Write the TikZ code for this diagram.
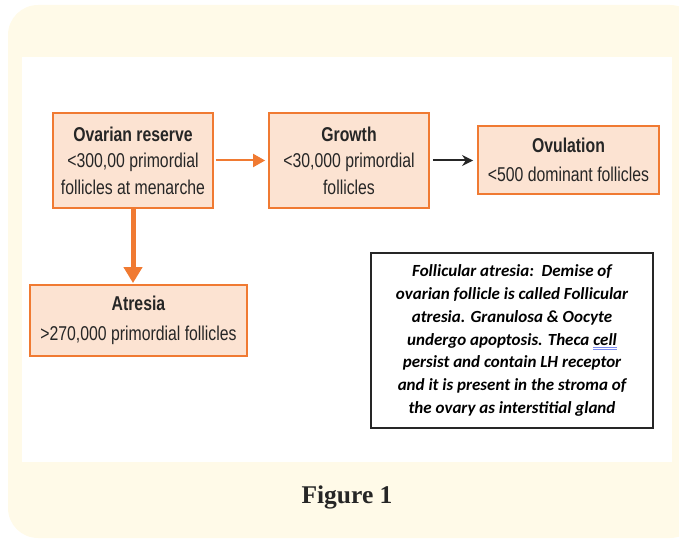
\documentclass[tikz,border=0pt]{standalone}
\usepackage{fontspec}
\usetikzlibrary{arrows.meta}
\newfontfamily\narrowsf[FakeStretch=0.79]{Liberation Sans}
\newfontfamily\notefont{Carlito}
\newfontfamily\capfont{Liberation Serif}
\definecolor{cream}{HTML}{FFFAE8}
\definecolor{boxorange}{HTML}{F07A32}
\definecolor{boxfill}{HTML}{FCE3D2}
\definecolor{spellblue}{HTML}{7A8CF0}
% double blue mark under a word
\newcommand\spellmark[1]{\setbox0\hbox{#1}\rlap{\copy0}\rlap{\raisebox{-2.8pt}{\textcolor{spellblue}{\rule{\wd0}{0.6pt}}}}\raisebox{-4.4pt}{\textcolor{spellblue}{\rule{\wd0}{0.6pt}}}}

\begin{document}
\begin{tikzpicture}[x=1pt,y=-1pt,
    stage/.style={rectangle,draw=boxorange,line width=1.8pt,fill=boxfill,align=center,
      inner sep=0pt,text=black!85,font=\narrowsf\fontsize{20}{26.5}\selectfont},
    notebox/.style={rectangle,draw=black!85,line width=1.6pt,fill=white,align=center,
      inner sep=0pt,font=\notefont\bfseries\itshape\fontsize{17}{22.8}\selectfont}]
    \path[use as bounding box] (0,0) rectangle (679,540);
    \clip (0,0) rectangle (679,540);
    \fill[cream,rounded corners=30pt] (8,5) rectangle (700,538);
    \fill[white] (22,57) rectangle (672,462);

    \node (reserve) at (133,160.5) [stage,minimum width=160pt,minimum height=95pt]
      {\textbf{Ovarian reserve}\\<300,00 primordial\\follicles at menarche};
    \node (growth) at (349,160.5) [stage,minimum width=160pt,minimum height=95pt]
      {\textbf{Growth}\\<30,000 primordial\\follicles};
    \node (ovulation) at (568.5,160) [stage,minimum width=181pt,minimum height=68pt]
      {\textbf{Ovulation}\\[3pt]<500 dominant follicles};
    \node (atresia) at (138.5,320.5) [stage,minimum width=217pt,minimum height=71pt]
      {\textbf{Atresia}\\[3pt]>270,000 primordial follicles};
    \node (note) at (512,340.5) [notebox,minimum width=282pt,minimum height=175pt]
      {Follicular atresia:\ \ Demise of\\ovarian follicle is called Follicular\\
       atresia. Granulosa \& Oocyte\\undergo apoptosis. Theca \spellmark{cell}\\
       persist and contain LH receptor\\and it is present in the stroma of\\
       the ovary as interstitial gland};

    \draw[boxorange,line width=2pt,-{Triangle[length=12pt,width=13pt]},shorten <=2pt,shorten >=3pt]
      (reserve) -- (growth);
    \draw[black!85,line width=2pt,-{Stealth[length=11pt,width=11pt]},shorten <=3pt,shorten >=4pt]
      (growth.east) -- (growth.east -| ovulation.west);
    \draw[boxorange,line width=5pt,-{Triangle[length=16pt,width=18pt]},shorten >=1pt]
      (reserve.south) -- (reserve.south |- atresia.north);

    \node (caption) at (347,497) [font=\capfont\bfseries\fontsize{25.5}{25.5}\selectfont,text=black!85] {Figure 1};
  \end{tikzpicture}
\end{document}
